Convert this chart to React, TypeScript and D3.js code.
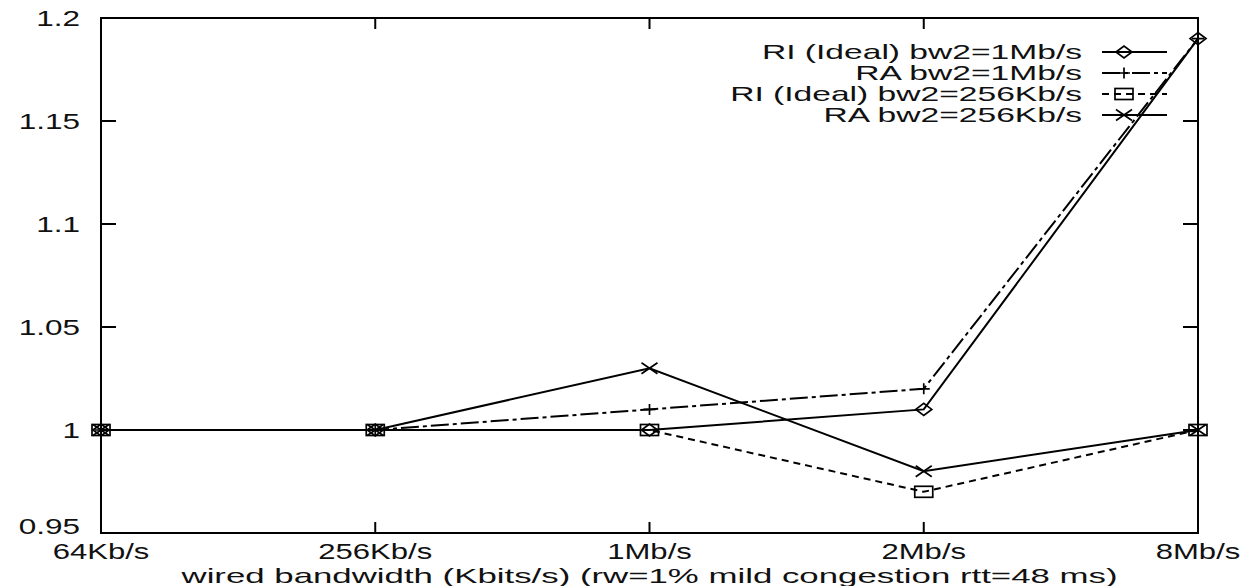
import React from 'react'
import * as d3 from 'd3'

const categories = ['64Kb/s', '256Kb/s', '1Mb/s', '2Mb/s', '8Mb/s']
const yTicks = [0.95, 1, 1.05, 1.1, 1.15, 1.2]
const yTickLabels = ['0.95', '1', '1.05', '1.1', '1.15', '1.2']

const riIdeal1M = [1, 1, 1, 1.01, 1.19]
const ra1M = [1, 1, 1.01, 1.02, 1.19]
const riIdeal256K = [1, 1, 1, 0.97, 1.0]
const ra256K = [1, 1, 1.03, 0.98, 1.0]

const seriesNames = [
  'RI (Ideal) bw2=1Mb/s',
  'RA bw2=1Mb/s',
  'RI (Ideal) bw2=256Kb/s',
  'RA bw2=256Kb/s',
]
const seriesValues = [riIdeal1M, ra1M, riIdeal256K, ra256K]
const seriesMarkers = ['diamond', 'plus', 'square', 'cross']
const seriesDash = ['none', '18,4,4,4', '7,5', 'none']

const xTitle = 'wired bandwidth (Kbits/s) (rw=1%  mild congestion  rtt=48 ms)'

const W = 1249
const H = 586
const left = 101
const right = 1198
const top = 18
const bottom = 533
const font = '"Liberation Sans", Arial, Helvetica, sans-serif'

const Marker = ({ type, x, y }: { type: string; x: number; y: number }) => {
  const st = { fill: 'none', stroke: '#000', strokeWidth: 1.7 }
  if (type === 'diamond')
    return <path d={`M${x - 8},${y} L${x},${y - 6} L${x + 8},${y} L${x},${y + 6} Z`} {...st} />
  if (type === 'plus')
    return <path d={`M${x - 6},${y} H${x + 6} M${x},${y - 5.5} V${y + 5.5}`} {...st} />
  if (type === 'square')
    return <rect x={x - 9} y={y - 5.5} width={18} height={11} {...st} />
  return <path d={`M${x - 8},${y - 5.5} L${x + 8},${y + 5.5} M${x - 8},${y + 5.5} L${x + 8},${y - 5.5}`} {...st} />
}

const App = () => {
  const x = d3.scalePoint<string>().domain(categories).range([left, right])
  const y = d3.scaleLinear().domain([0.95, 1.2]).range([bottom, top])
  const line = d3
    .line<number>()
    .x((_, i) => x(categories[i]) as number)
    .y((d) => y(d))

  return (
    <div style={{ position: 'absolute', left: 0, top: 0 }}>
      <svg width={W} height={H} style={{ display: 'block', background: '#fff' }} fontFamily={font}>
        <rect x={left} y={top} width={right - left} height={bottom - top} fill="none" stroke="#000" strokeWidth={2} />
        {/* y ticks */}
        {yTicks.map((t, i) => (
          <g key={'y' + i}>
            {i > 0 && i < yTicks.length - 1 && (
              <>
                <line x1={left} x2={left + 15} y1={y(t)} y2={y(t)} stroke="#000" strokeWidth={2} />
                <line x1={right} x2={right - 15} y1={y(t)} y2={y(t)} stroke="#000" strokeWidth={2} />
              </>
            )}
            <text
              transform={`translate(80,${Math.min(y(t) + 8, 534)}) scale(1.4,1)`}
              textAnchor="end"
              fontSize={22.5}
              fill="#111"
            >
              {yTickLabels[i]}
            </text>
          </g>
        ))}
        {/* x ticks */}
        {categories.map((c, i) => (
          <g key={'x' + i}>
            {i > 0 && i < categories.length - 1 && (
              <>
                <line x1={x(c)} x2={x(c)} y1={bottom} y2={bottom - 11} stroke="#000" strokeWidth={2} />
                <line x1={x(c)} x2={x(c)} y1={top} y2={top + 11} stroke="#000" strokeWidth={2} />
              </>
            )}
            <text
              transform={`translate(${x(c)},559) scale(1.38,1)`}
              textAnchor="middle"
              fontSize={22.5}
              fill="#111"
            >
              {c}
            </text>
          </g>
        ))}
        <text
          x={(left + right) / 2}
          y={583}
          textAnchor="middle"
          fontSize={21}
          textLength={936}
          lengthAdjust="spacingAndGlyphs"
          fill="#111"
        >
          {xTitle}
        </text>
        {/* series */}
        {seriesValues.map((vals, s) => (
          <g key={'s' + s}>
            <path
              d={line(vals) as string}
              fill="none"
              stroke="#000"
              strokeWidth={2}
              strokeDasharray={seriesDash[s]}
            />
            {vals.map((v, i) => (
              <Marker key={i} type={seriesMarkers[s]} x={x(categories[i]) as number} y={y(v)} />
            ))}
          </g>
        ))}
        {/* legend */}
        {seriesNames.map((n, s) => {
          const ly = 52 + s * 21
          return (
            <g key={'l' + s}>
              <text
                transform={`translate(1082,${ly + 7}) scale(1.6,1)`}
                textAnchor="end"
                fontSize={21}
                fill="#111"
              >
                {n}
              </text>
              <line
                x1={1102}
                x2={1167}
                y1={ly}
                y2={ly}
                stroke="#000"
                strokeWidth={2}
                strokeDasharray={seriesDash[s]}
              />
              <Marker type={seriesMarkers[s]} x={1124} y={ly} />
            </g>
          )
        })}
      </svg>
    </div>
  )
}

export default App
